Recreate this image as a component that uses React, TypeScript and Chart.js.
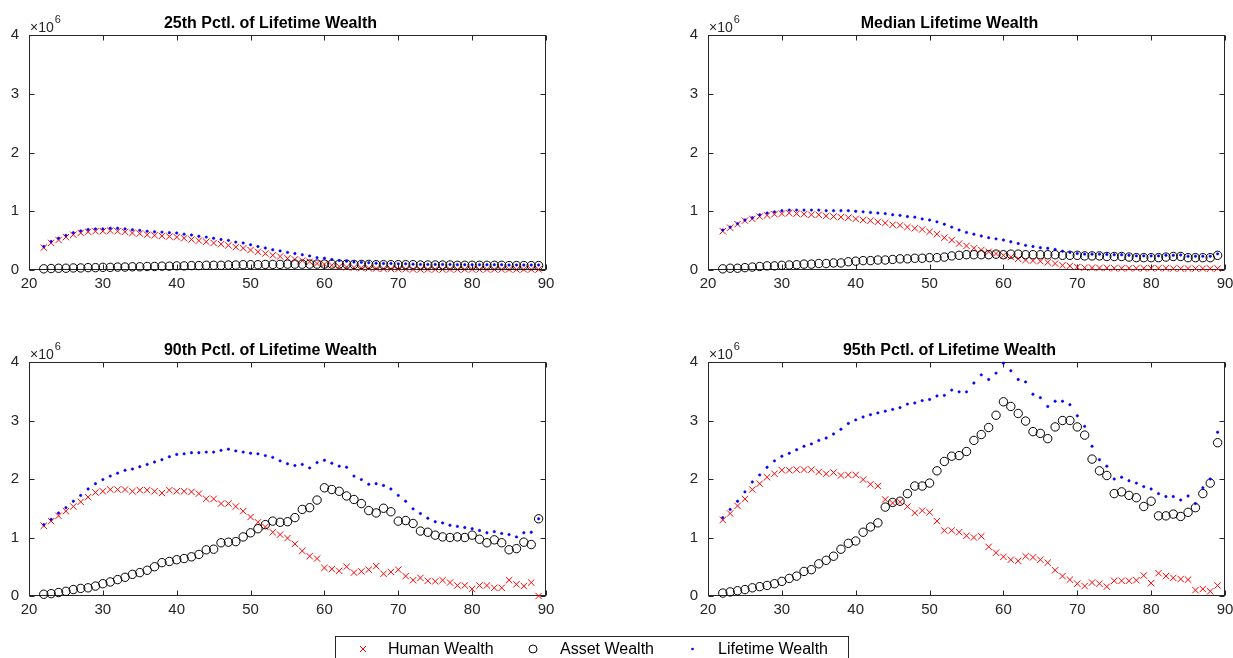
import React, { useEffect, useRef } from "react";
import { Chart, registerables } from "chart.js";

Chart.register(...registerables);

// ---------- data (values in millions of dollars) ----------
const AGES = [
  22, 23, 24, 25, 26, 27, 28, 29, 30, 31, 32, 33, 34, 35, 36, 37, 38, 39, 40, 41,
  42, 43, 44, 45, 46, 47, 48, 49, 50, 51, 52, 53, 54, 55, 56, 57, 58, 59, 60, 61,
  62, 63, 64, 65, 66, 67, 68, 69, 70, 71, 72, 73, 74, 75, 76, 77, 78, 79, 80, 81,
  82, 83, 84, 85, 86, 87, 88, 89,
];

const UNIT = 1e6;
const X_TICKS = [20, 30, 40, 50, 60, 70, 80, 90];
const Y_TICKS = [0, 1, 2, 3, 4];
const EXPONENT = "6";

const TITLES = [
  "25th Pctl. of Lifetime Wealth",
  "Median Lifetime Wealth",
  "90th Pctl. of Lifetime Wealth",
  "95th Pctl. of Lifetime Wealth",
];
const SERIES_NAMES = ["Human Wealth", "Asset Wealth", "Lifetime Wealth"];

// 25th percentile
const HUMAN_P25 = [
  0.38, 0.46, 0.51, 0.56, 0.60, 0.63, 0.65, 0.66, 0.66, 0.67,
  0.66, 0.65, 0.63, 0.62, 0.60, 0.59, 0.58, 0.57, 0.56, 0.54,
  0.52, 0.50, 0.48, 0.46, 0.44, 0.42, 0.39, 0.37, 0.34, 0.31,
  0.28, 0.25, 0.23, 0.20, 0.18, 0.16, 0.14, 0.11, 0.10, 0.08,
  0.06, 0.05, 0.04, 0.035, 0.03, 0.025, 0.02, 0.02, 0.015, 0.015,
  0.01, 0.01, 0.01, 0.01, 0.01, 0.01, 0.01, 0.01, 0.01, 0.01,
  0.01, 0.01, 0.01, 0.01, 0.01, 0.01, 0.01, 0.01,
];
const ASSET_P25 = [
  0.02, 0.025, 0.03, 0.03, 0.035, 0.035, 0.04, 0.04, 0.045, 0.045,
  0.05, 0.05, 0.055, 0.055, 0.06, 0.06, 0.065, 0.065, 0.07, 0.07,
  0.075, 0.075, 0.08, 0.08, 0.08, 0.085, 0.085, 0.09, 0.09, 0.09,
  0.095, 0.095, 0.095, 0.10, 0.10, 0.10, 0.10, 0.10, 0.10, 0.10,
  0.10, 0.10, 0.095, 0.095, 0.095, 0.09, 0.09, 0.09, 0.09, 0.09,
  0.09, 0.085, 0.085, 0.085, 0.085, 0.085, 0.08, 0.08, 0.08, 0.08,
  0.08, 0.08, 0.08, 0.075, 0.075, 0.075, 0.075, 0.075,
];
const LIFETIME_P25 = [
  0.40, 0.485, 0.54, 0.59, 0.635, 0.665, 0.69, 0.70, 0.70, 0.71,
  0.71, 0.70, 0.685, 0.675, 0.66, 0.65, 0.645, 0.635, 0.63, 0.61,
  0.595, 0.575, 0.56, 0.54, 0.52, 0.505, 0.475, 0.46, 0.43, 0.40,
  0.375, 0.345, 0.325, 0.30, 0.28, 0.26, 0.24, 0.21, 0.20, 0.18,
  0.16, 0.15, 0.135, 0.13, 0.125, 0.115, 0.11, 0.11, 0.105, 0.105,
  0.10, 0.095, 0.095, 0.095, 0.095, 0.095, 0.09, 0.09, 0.09, 0.09,
  0.09, 0.09, 0.09, 0.085, 0.085, 0.085, 0.085, 0.085,
];

// median
const HUMAN_P50 = [
  0.66, 0.72, 0.78, 0.84, 0.87, 0.91, 0.93, 0.95, 0.96, 0.97,
  0.96, 0.95, 0.94, 0.94, 0.92, 0.91, 0.90, 0.89, 0.87, 0.85,
  0.84, 0.82, 0.80, 0.77, 0.76, 0.73, 0.71, 0.69, 0.65, 0.61,
  0.55, 0.51, 0.45, 0.41, 0.37, 0.34, 0.31, 0.28, 0.25, 0.22,
  0.19, 0.17, 0.16, 0.15, 0.13, 0.11, 0.08, 0.07, 0.05, 0.04,
  0.04, 0.035, 0.035, 0.03, 0.03, 0.03, 0.03, 0.03, 0.03, 0.03,
  0.03, 0.025, 0.025, 0.025, 0.025, 0.025, 0.025, 0.025,
];
const ASSET_P50 = [
  0.02, 0.03, 0.03, 0.04, 0.05, 0.06, 0.07, 0.07, 0.08, 0.085,
  0.09, 0.10, 0.10, 0.11, 0.11, 0.12, 0.12, 0.14, 0.15, 0.16,
  0.16, 0.17, 0.17, 0.18, 0.19, 0.19, 0.20, 0.20, 0.21, 0.21,
  0.22, 0.24, 0.25, 0.26, 0.26, 0.26, 0.26, 0.27, 0.26, 0.27,
  0.27, 0.26, 0.26, 0.26, 0.26, 0.26, 0.25, 0.25, 0.25, 0.24,
  0.24, 0.24, 0.23, 0.23, 0.23, 0.22, 0.21, 0.21, 0.21, 0.21,
  0.22, 0.23, 0.23, 0.21, 0.21, 0.21, 0.21, 0.25,
];
const LIFETIME_P50 = [
  0.68, 0.73, 0.79, 0.85, 0.89, 0.94, 0.97, 0.99, 1.01, 1.02,
  1.02, 1.02, 1.02, 1.02, 1.01, 1.01, 1.01, 1.01, 1.00, 0.99,
  0.98, 0.97, 0.96, 0.94, 0.93, 0.91, 0.90, 0.87, 0.85, 0.82,
  0.78, 0.73, 0.68, 0.64, 0.61, 0.58, 0.55, 0.53, 0.51, 0.48,
  0.45, 0.42, 0.40, 0.38, 0.37, 0.35, 0.32, 0.30, 0.28, 0.27,
  0.27, 0.27, 0.265, 0.26, 0.26, 0.25, 0.24, 0.24, 0.24, 0.24,
  0.25, 0.25, 0.255, 0.235, 0.235, 0.235, 0.235, 0.275,
];

// 90th percentile
const HUMAN_P90 = [
  1.20, 1.28, 1.37, 1.45, 1.53, 1.61, 1.69, 1.77, 1.79, 1.82,
  1.82, 1.82, 1.79, 1.81, 1.81, 1.79, 1.76, 1.81, 1.79, 1.79,
  1.78, 1.75, 1.66, 1.66, 1.58, 1.58, 1.53, 1.45, 1.35, 1.26,
  1.18, 1.09, 1.05, 0.99, 0.89, 0.77, 0.68, 0.64, 0.48, 0.46,
  0.43, 0.50, 0.40, 0.42, 0.45, 0.51, 0.38, 0.41, 0.45, 0.34,
  0.27, 0.31, 0.26, 0.25, 0.27, 0.23, 0.18, 0.18, 0.12, 0.18,
  0.18, 0.14, 0.14, 0.27, 0.20, 0.17, 0.23, 0.00,
];
const ASSET_P90 = [
  0.03, 0.04, 0.06, 0.08, 0.11, 0.13, 0.14, 0.17, 0.21, 0.24,
  0.28, 0.32, 0.37, 0.40, 0.44, 0.50, 0.57, 0.59, 0.62, 0.64,
  0.67, 0.71, 0.79, 0.80, 0.91, 0.92, 0.93, 1.01, 1.08, 1.15,
  1.22, 1.28, 1.26, 1.27, 1.34, 1.48, 1.51, 1.64, 1.85, 1.82,
  1.79, 1.71, 1.65, 1.58, 1.46, 1.42, 1.50, 1.44, 1.28, 1.29,
  1.24, 1.11, 1.09, 1.04, 1.01, 1.00, 1.01, 1.00, 1.04, 0.97,
  0.91, 0.96, 0.91, 0.79, 0.81, 0.92, 0.88, 1.32,
];
const LIFETIME_P90 = [
  1.22, 1.31, 1.42, 1.51, 1.62, 1.72, 1.83, 1.92, 1.99, 2.05,
  2.10, 2.15, 2.17, 2.21, 2.25, 2.29, 2.33, 2.38, 2.42, 2.43,
  2.45, 2.45, 2.46, 2.46, 2.49, 2.51, 2.48, 2.46, 2.44, 2.43,
  2.40, 2.37, 2.31, 2.26, 2.23, 2.25, 2.19, 2.28, 2.32, 2.27,
  2.22, 2.20, 2.05, 1.99, 1.91, 1.92, 1.89, 1.83, 1.72, 1.62,
  1.49, 1.41, 1.33, 1.27, 1.25, 1.21, 1.19, 1.17, 1.15, 1.12,
  1.08, 1.10, 1.07, 1.05, 1.01, 1.08, 1.09, 1.32,
];

// 95th percentile
const HUMAN_P95 = [
  1.30, 1.41, 1.54, 1.66, 1.82, 1.92, 2.03, 2.09, 2.15, 2.15,
  2.16, 2.16, 2.16, 2.12, 2.09, 2.11, 2.06, 2.07, 2.07, 1.99,
  1.91, 1.88, 1.65, 1.59, 1.61, 1.53, 1.42, 1.46, 1.43, 1.28,
  1.12, 1.12, 1.09, 1.03, 1.00, 1.02, 0.84, 0.74, 0.67, 0.62,
  0.60, 0.68, 0.66, 0.62, 0.57, 0.44, 0.34, 0.28, 0.21, 0.17,
  0.23, 0.21, 0.16, 0.26, 0.26, 0.26, 0.27, 0.35, 0.22, 0.39,
  0.34, 0.31, 0.29, 0.28, 0.10, 0.12, 0.08, 0.18,
];
const ASSET_P95 = [
  0.05, 0.07, 0.09, 0.11, 0.14, 0.16, 0.18, 0.21, 0.25, 0.30,
  0.34, 0.42, 0.45, 0.55, 0.61, 0.68, 0.80, 0.90, 0.94, 1.09,
  1.18, 1.25, 1.52, 1.60, 1.62, 1.75, 1.88, 1.88, 1.93, 2.14,
  2.30, 2.39, 2.40, 2.47, 2.66, 2.76, 2.88, 3.09, 3.32, 3.24,
  3.12, 2.99, 2.81, 2.78, 2.69, 2.89, 3.00, 3.00, 2.89, 2.75,
  2.34, 2.14, 2.06, 1.75, 1.78, 1.72, 1.68, 1.53, 1.62, 1.37,
  1.37, 1.40, 1.36, 1.43, 1.51, 1.75, 1.93, 2.62,
];
const LIFETIME_P95 = [
  1.34, 1.48, 1.62, 1.78, 1.95, 2.07, 2.20, 2.31, 2.39, 2.44,
  2.50, 2.56, 2.60, 2.66, 2.70, 2.77, 2.85, 2.95, 3.01, 3.06,
  3.10, 3.13, 3.16, 3.19, 3.22, 3.28, 3.30, 3.34, 3.36, 3.42,
  3.43, 3.52, 3.49, 3.49, 3.64, 3.78, 3.70, 3.81, 3.98, 3.85,
  3.70, 3.66, 3.45, 3.39, 3.24, 3.33, 3.33, 3.27, 3.08, 2.90,
  2.56, 2.33, 2.22, 2.00, 2.03, 1.97, 1.93, 1.87, 1.83, 1.75,
  1.70, 1.70, 1.64, 1.71, 1.58, 1.85, 2.00, 2.80,
];

// ---------- styling / layout ----------
const FONT = '"Liberation Sans", Arial, Helvetica, sans-serif';
const AXIS_COLOR = "#262626";
const HUMAN_COLOR = "#ff0000";
const ASSET_COLOR = "#000000";
const LIFE_COLOR = "#0000ff";

const PAD_L = 29;
const PAD_T = 35;
const PAD_R = 14;
const PAD_B = 30;

type PanelSpec = {
  title: string;
  human: number[];
  asset: number[];
  lifetime: number[];
  left: number;
  top: number;
  width: number;
  height: number;
};

const PANELS: PanelSpec[] = [
  { title: TITLES[0], human: HUMAN_P25, asset: ASSET_P25, lifetime: LIFETIME_P25, left: 29, top: 35, width: 517, height: 235 },
  { title: TITLES[1], human: HUMAN_P50, asset: ASSET_P50, lifetime: LIFETIME_P50, left: 708, top: 35, width: 517, height: 235 },
  { title: TITLES[2], human: HUMAN_P90, asset: ASSET_P90, lifetime: LIFETIME_P90, left: 29, top: 362, width: 517, height: 234 },
  { title: TITLES[3], human: HUMAN_P95, asset: ASSET_P95, lifetime: LIFETIME_P95, left: 708, top: 362, width: 517, height: 234 },
];

function toPoints(values: number[]) {
  return AGES.map((age, i) => ({ x: age, y: values[i] * UNIT }));
}

function makeAxesPlugin(title: string) {
  return {
    id: "matlabAxes",
    beforeDatasetsDraw(chart: any) {
      const { ctx, chartArea: a, scales } = chart;
      const L = Math.round(a.left) + 0.5;
      const R = Math.round(a.right) - 0.5;
      const T = Math.round(a.top) + 0.5;
      const B = Math.round(a.bottom) - 0.5;
      ctx.save();
      ctx.strokeStyle = AXIS_COLOR;
      ctx.lineWidth = 1;
      ctx.strokeRect(L, T, R - L, B - T);
      const tl = 5;
      ctx.beginPath();
      X_TICKS.forEach((v) => {
        const px = Math.round(scales.x.getPixelForValue(v)) + 0.5;
        ctx.moveTo(px, B);
        ctx.lineTo(px, B - tl);
        ctx.moveTo(px, T);
        ctx.lineTo(px, T + tl);
      });
      Y_TICKS.forEach((v) => {
        const py = Math.round(scales.y.getPixelForValue(v * UNIT)) + 0.5;
        ctx.moveTo(L, py);
        ctx.lineTo(L + tl, py);
        ctx.moveTo(R, py);
        ctx.lineTo(R - tl, py);
      });
      ctx.stroke();
      ctx.restore();
    },
    afterDraw(chart: any) {
      const { ctx, chartArea: a } = chart;
      ctx.save();
      // title
      ctx.fillStyle = "#000000";
      ctx.font = `bold 16px ${FONT}`;
      ctx.textAlign = "center";
      ctx.textBaseline = "alphabetic";
      ctx.fillText(title, (a.left + a.right) / 2 - 17, a.top - 7);
      // exponent label
      ctx.fillStyle = AXIS_COLOR;
      ctx.textAlign = "left";
      ctx.font = `14px ${FONT}`;
      const base = "\u00d710";
      ctx.fillText(base, a.left + 1, a.top - 3);
      const w = ctx.measureText(base).width;
      ctx.font = `11px ${FONT}`;
      ctx.fillText(EXPONENT, a.left + 2 + w, a.top - 12);
      ctx.restore();
    },
  };
}

function PanelChart({ spec }: { spec: PanelSpec }) {
  const ref = useRef<HTMLCanvasElement | null>(null);
  const cw = spec.width + PAD_L + PAD_R;
  const ch = spec.height + PAD_T + PAD_B;

  useEffect(() => {
    if (!ref.current) return;
    const chart = new Chart(ref.current, {
      type: "scatter",
      data: {
        datasets: [
          {
            label: SERIES_NAMES[0],
            data: toPoints(spec.human),
            pointStyle: "crossRot",
            pointRadius: 4.5,
            borderColor: HUMAN_COLOR,
            backgroundColor: HUMAN_COLOR,
            borderWidth: 1,
            order: 3,
            clip: false,
          },
          {
            label: SERIES_NAMES[1],
            data: toPoints(spec.asset),
            pointStyle: "circle",
            pointRadius: 4.2,
            borderColor: ASSET_COLOR,
            backgroundColor: "rgba(0,0,0,0)",
            borderWidth: 1,
            order: 2,
            clip: false,
          },
          {
            label: SERIES_NAMES[2],
            data: toPoints(spec.lifetime),
            pointStyle: "circle",
            pointRadius: 1.2,
            borderColor: LIFE_COLOR,
            backgroundColor: LIFE_COLOR,
            borderWidth: 0.6,
            order: 1,
            clip: false,
          },
        ] as any,
      },
      options: {
        responsive: false,
        animation: false,
        devicePixelRatio: 1,
        events: [],
        layout: { padding: { top: PAD_T, right: PAD_R, left: 0, bottom: 0 } },
        plugins: {
          legend: { display: false },
          title: { display: false },
          tooltip: { enabled: false },
        },
        scales: {
          x: {
            type: "linear",
            min: 20,
            max: 90,
            afterFit: (scale: any) => {
              scale.height = PAD_B;
            },
            afterBuildTicks: (scale: any) => {
              scale.ticks = X_TICKS.map((v) => ({ value: v }));
            },
            grid: { display: false, drawTicks: false },
            border: { display: false },
            ticks: {
              color: AXIS_COLOR,
              font: { family: FONT, size: 15 },
              padding: 5,
              maxRotation: 0,
              autoSkip: false,
            },
          },
          y: {
            type: "linear",
            min: 0,
            max: 4 * UNIT,
            afterFit: (scale: any) => {
              scale.width = PAD_L;
            },
            afterBuildTicks: (scale: any) => {
              scale.ticks = Y_TICKS.map((v) => ({ value: v * UNIT }));
            },
            grid: { display: false, drawTicks: false },
            border: { display: false },
            ticks: {
              color: AXIS_COLOR,
              font: { family: FONT, size: 15 },
              padding: 10,
              autoSkip: false,
              callback: (v: any) => String(Number(v) / UNIT),
            },
          },
        },
      } as any,
      plugins: [makeAxesPlugin(spec.title)],
    });
    return () => chart.destroy();
  }, [spec]);

  return (
    <canvas
      ref={ref}
      width={cw}
      height={ch}
      style={{
        position: "absolute",
        left: spec.left - PAD_L,
        top: spec.top - PAD_T,
        width: cw,
        height: ch,
      }}
    />
  );
}

function Legend() {
  const cy = 649;
  const textStyle: React.CSSProperties = {
    position: "absolute",
    top: cy - 10,
    lineHeight: "20px",
    fontSize: 16,
    fontFamily: FONT,
    color: "#000",
    whiteSpace: "nowrap",
  };
  return (
    <>
      <div
        style={{
          position: "absolute",
          left: 335,
          top: 636,
          width: 514,
          height: 40,
          border: `1px solid ${AXIS_COLOR}`,
          boxSizing: "border-box",
          background: "#fff",
        }}
      />
      <svg
        width={1233}
        height={658}
        style={{ position: "absolute", left: 0, top: 0, pointerEvents: "none" }}
      >
        <g stroke={HUMAN_COLOR} strokeWidth={1}>
          <line x1={360} y1={cy - 3} x2={366} y2={cy + 3} />
          <line x1={360} y1={cy + 3} x2={366} y2={cy - 3} />
        </g>
        <circle cx={533} cy={cy} r={4} fill="none" stroke={ASSET_COLOR} strokeWidth={1} />
        <circle cx={692.5} cy={cy} r={1.3} fill={LIFE_COLOR} />
      </svg>
      <span style={{ ...textStyle, left: 388 }}>{SERIES_NAMES[0]}</span>
      <span style={{ ...textStyle, left: 560 }}>{SERIES_NAMES[1]}</span>
      <span style={{ ...textStyle, left: 718 }}>{SERIES_NAMES[2]}</span>
    </>
  );
}

export default function App() {
  return (
    <div
      style={{
        position: "absolute",
        left: 0,
        top: 0,
        width: 1233,
        height: 658,
        overflow: "hidden",
        background: "#ffffff",
      }}
    >
      {PANELS.map((p) => (
        <PanelChart key={p.title} spec={p} />
      ))}
      <Legend />
    </div>
  );
}
